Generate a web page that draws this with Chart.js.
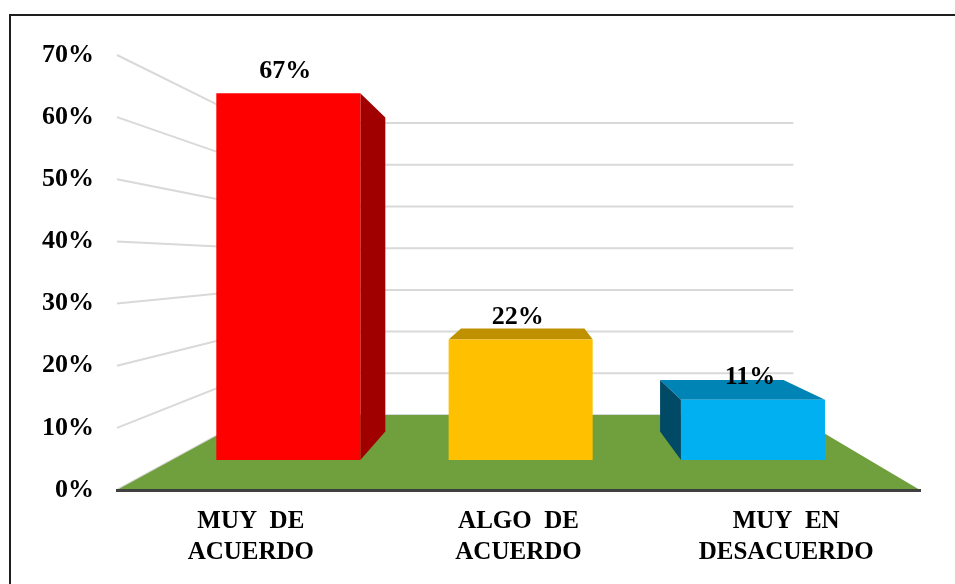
<!DOCTYPE html>
<html>
<head>
<meta charset="utf-8">
<title>Grafico</title>
<script src="https://cdn.jsdelivr.net/npm/chart.js@4"></script>
<style>
  body { margin: 0; background: #fff; }
  canvas { display: block; }
</style>
</head>
<body>
<canvas id="chart" width="955" height="584"></canvas>
<script>
// data
const categories = [['MUY  DE', 'ACUERDO'], ['ALGO  DE', 'ACUERDO'], ['MUY  EN', 'DESACUERDO']];
const values = [67, 22, 11];
const valueLabels = ['67%', '22%', '11%'];
const tickValues = [0, 10, 20, 30, 40, 50, 60, 70];

// colours
const frontColors = ['#ff0000', '#ffc000', '#00b0f0'];
const topColors = ['#c00000', '#bf9000', '#0084b6'];
const sideColors = ['#a00000', '#9a7400', '#004a66'];

// perspective settings (fractions of the chart area)
const VP_X = 0.5205, VP_Y = 0.476;
const K_BACK = 0.671;  // back wall relative to front plane
const K_BAR = 0.857;   // depth of the bars

const FONT = "'Liberation Serif', 'Times New Roman', serif";

function vanish(chart) {
  const a = chart.chartArea;
  return { x: a.left + VP_X * (a.right - a.left), y: a.top + VP_Y * (a.bottom - a.top) };
}
function proj(x, y, v, k) {
  return [v.x + k * (x - v.x), v.y + k * (y - v.y)];
}
function poly(ctx, pts, color) {
  ctx.beginPath();
  ctx.moveTo(pts[0][0], pts[0][1]);
  for (let i = 1; i < pts.length; i++) ctx.lineTo(pts[i][0], pts[i][1]);
  ctx.closePath();
  ctx.fillStyle = color;
  ctx.fill();
}

const room = {
  id: 'room',
  beforeDraw(chart) {
    const { ctx, chartArea: a, scales } = chart;
    const v = vanish(chart);
    const backRight = proj(a.right, 0, v, K_BACK)[0];
    ctx.save();
    // walls: slanted side lines + horizontal back lines
    ctx.strokeStyle = '#d9d9d9';
    ctx.lineWidth = 2;
    tickValues.forEach(t => {
      const y = scales.y.getPixelForValue(t);
      const b = proj(a.left, y, v, K_BACK);
      ctx.beginPath();
      ctx.moveTo(a.left, y);
      ctx.lineTo(b[0], b[1]);
      ctx.lineTo(backRight, b[1]);
      ctx.stroke();
    });
    // floor
    const y0 = scales.y.getPixelForValue(0);
    poly(ctx, [[a.left, y0], proj(a.left, y0, v, K_BACK), proj(a.right, y0, v, K_BACK), [a.right, y0]], '#70a03e');
    ctx.restore();
  },
  beforeDatasetsDraw(chart) {
    const ctx = chart.ctx;
    const v = vanish(chart);
    ctx.save();
    chart.getDatasetMeta(0).data.forEach((el, i) => {
      const x1 = el.x - el.width / 2, x2 = el.x + el.width / 2;
      const yt = el.y, yb = el.base;
      if (yt > v.y) {
        poly(ctx, [[x1, yt], [x2, yt], proj(x2, yt, v, K_BAR), proj(x1, yt, v, K_BAR)], topColors[i]);
      }
      if (x2 < v.x) {
        poly(ctx, [[x2, yt], [x2, yb], proj(x2, yb, v, K_BAR), proj(x2, yt, v, K_BAR)], sideColors[i]);
      }
      if (x1 > v.x) {
        poly(ctx, [[x1, yt], [x1, yb], proj(x1, yb, v, K_BAR), proj(x1, yt, v, K_BAR)], sideColors[i]);
      }
    });
    ctx.restore();
  },
  afterDatasetsDraw(chart) {
    const ctx = chart.ctx;
    ctx.save();
    ctx.font = 'bold 26px ' + FONT;
    ctx.fillStyle = '#000';
    ctx.textAlign = 'center';
    ctx.textBaseline = 'middle';
    chart.getDatasetMeta(0).data.forEach((el, i) => {
      ctx.fillText(valueLabels[i], el.x - 3, el.y - 22);
    });
    ctx.restore();
  },
  afterDraw(chart) {
    // outer frame (only top and left edges fall inside the picture)
    const ctx = chart.ctx;
    ctx.save();
    ctx.strokeStyle = '#1e1e1e';
    ctx.lineWidth = 2;
    ctx.beginPath();
    ctx.moveTo(chart.width, 15);
    ctx.lineTo(10, 15);
    ctx.lineTo(10, chart.height);
    ctx.stroke();
    ctx.restore();
  }
};

new Chart(document.getElementById('chart'), {
  type: 'bar',
  data: {
    labels: categories,
    datasets: [{
      data: values.map((v, i) => ({ x: i, y: v })),
      backgroundColor: frontColors,
      borderWidth: 0,
      barPercentage: 0.62,
      categoryPercentage: 1,
      xAxisID: 'xb',
      yAxisID: 'yb'
    }]
  },
  options: {
    responsive: false,
    animation: false,
    layout: { padding: { top: 55, right: 35, left: 0, bottom: 0 } },
    plugins: { legend: { display: false }, tooltip: { enabled: false } },
    scales: {
      x: {
        type: 'category',
        labels: categories,
        offset: true,
        grid: { display: false, drawTicks: false },
        border: { display: true, color: '#404040', width: 3 },
        ticks: {
          color: '#000',
          padding: 16,
          maxRotation: 0,
          autoSkip: false,
          font: { family: FONT, size: 25, weight: 'bold', lineHeight: 1.25 }
        },
        afterFit(scale) { scale.height = 94; }
      },
      y: {
        type: 'linear',
        min: 0,
        max: 70,
        grid: { display: false, drawTicks: false },
        border: { display: false },
        ticks: {
          stepSize: 10,
          color: '#000',
          padding: 23,
          font: { family: FONT, size: 26, weight: 'bold' },
          callback: v => v + '%'
        },
        afterFit(scale) { scale.width = 117; }
      },
      xb: {
        type: 'linear', display: false, offset: false, min: -0.7375, max: 2.719,
        ticks: { stepSize: 1, includeBounds: false }
      },
      yb: { type: 'linear', display: false, min: -5.5, max: 74 }
    }
  },
  plugins: [room]
});
</script>
</body>
</html>
